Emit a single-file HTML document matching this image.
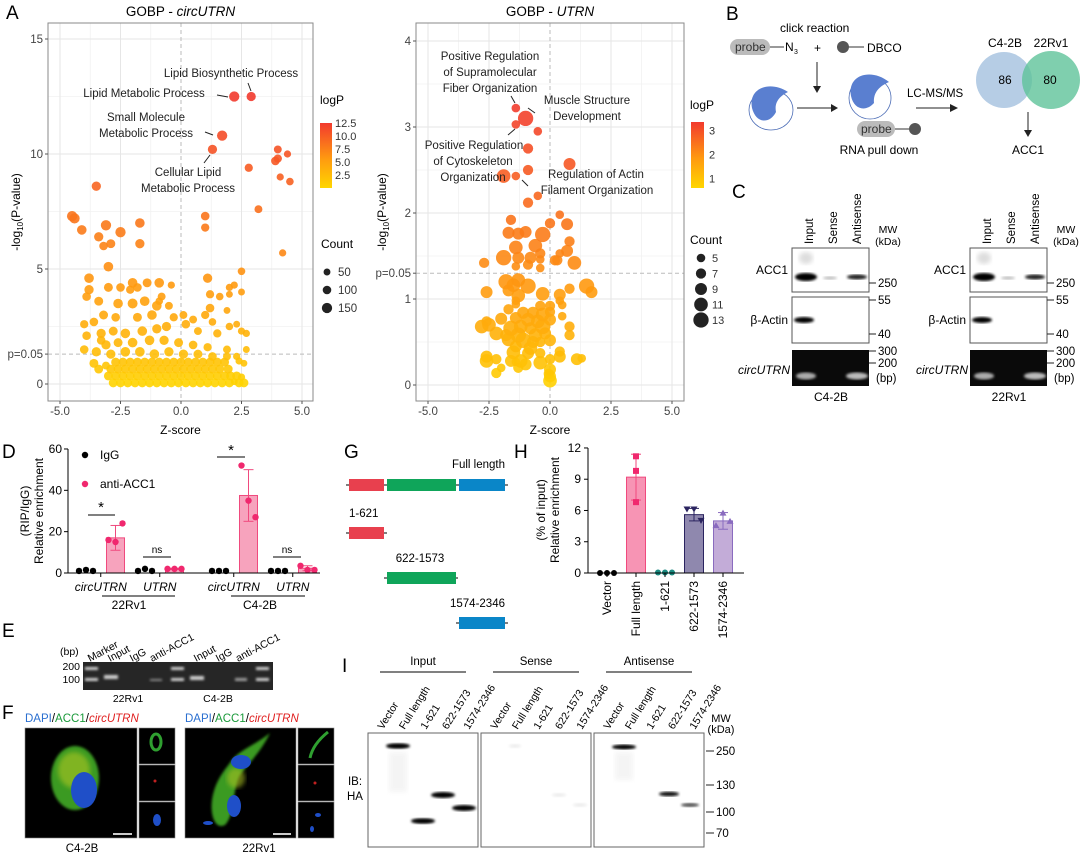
<!DOCTYPE html>
<html><head><meta charset="utf-8"><style>
html,body{margin:0;padding:0;background:#fff;}
svg{display:block;font-family:"Liberation Sans",Arial,sans-serif;}
</style></head><body>
<svg id="fig" width="1080" height="855" viewBox="0 0 1080 855" xmlns="http://www.w3.org/2000/svg">
<defs>
<linearGradient id="gradL" x1="0" y1="1" x2="0" y2="0"><stop offset="0" stop-color="#ffd600"/><stop offset="0.45" stop-color="#ff9a10"/><stop offset="1" stop-color="#f23a2e"/></linearGradient>
<filter id="blur1"><feGaussianBlur stdDeviation="1.3"/></filter>
<filter id="blur2"><feGaussianBlur stdDeviation="2.5"/></filter>
</defs>
<g id="panelA1"></g>
<g id="panelA2"></g>
<g id="panelD"></g>
<g id="panelH"></g>

<g font-size="19" fill="#000">
<text x="6" y="19">A</text><text x="726" y="20">B</text><text x="732" y="198">C</text>
<text x="2" y="458">D</text><text x="2" y="637">E</text><text x="2" y="719">F</text>
<text x="344" y="458">G</text><text x="514" y="458">H</text><text x="342" y="672">I</text>
</g>

<g font-size="12">
<text x="780" y="32">click reaction</text>
<rect x="730" y="39" width="40" height="16" rx="8" fill="#bbb"/>
<text x="735" y="51" fill="#333">probe</text>
<line x1="770" y1="47" x2="784" y2="47" stroke="#333"/>
<text x="785" y="51">N</text><text x="794" y="54" font-size="7">3</text>
<text x="814" y="52">+</text>
<circle cx="843" cy="47" r="6" fill="#555"/><line x1="849" y1="47" x2="864" y2="47" stroke="#333"/>
<text x="867" y="52">DBCO</text>
<line x1="817" y1="62" x2="817" y2="88" stroke="#222"/><path d="M813,86 L817,93 L821,86Z" fill="#222"/>
<g>
<ellipse cx="771" cy="110" rx="22" ry="20" fill="#fff" stroke="#4a6bb5" stroke-width="0.8"/>
<path d="M752,108 C748,88 770,80 788,92 C780,96 774,102 776,112 C770,124 756,124 752,108Z" fill="#5a7fd0"/>
</g>
<line x1="797" y1="108" x2="833" y2="108" stroke="#222"/><path d="M831,104 L838,108 L831,112Z" fill="#222"/>
<g>
<ellipse cx="870" cy="98" rx="21" ry="21" fill="#fff" stroke="#4a6bb5" stroke-width="0.8"/>
<path d="M851,96 C847,74 872,68 889,82 C880,86 873,92 874,103 C866,112 854,110 851,96Z" fill="#5a7fd0"/>
</g>
<rect x="857" y="121" width="38" height="16" rx="8" fill="#bbb"/>
<text x="861" y="133" fill="#333">probe</text>
<line x1="895" y1="129" x2="909" y2="129" stroke="#333"/><circle cx="915" cy="129" r="6" fill="#555"/>
<text x="879" y="154" text-anchor="middle">RNA pull down</text>
<text x="907" y="97" font-size="11.5">LC-MS/MS</text>
<line x1="916" y1="108" x2="952" y2="108" stroke="#222"/><path d="M950,104 L958,108 L950,112Z" fill="#222"/>
<circle cx="1004" cy="80" r="28" fill="#a9c4e0" opacity="0.85"/>
<circle cx="1051" cy="80" r="29" fill="#5fc39a" opacity="0.8"/>
<text x="1005" y="47" text-anchor="middle">C4-2B</text><text x="1051" y="47" text-anchor="middle">22Rv1</text>
<text x="1005" y="84" text-anchor="middle">86</text><text x="1050" y="84" text-anchor="middle">80</text>
<line x1="1028" y1="112" x2="1028" y2="132" stroke="#222"/><path d="M1024,130 L1028,137 L1032,130Z" fill="#222"/>
<text x="1028" y="154" text-anchor="middle">ACC1</text>
</g>

<g id="panelC" font-size="11"></g>

<g font-size="10.5">
<text x="60" y="655">(bp)</text>
<text x="80" y="670" text-anchor="end">200</text><text x="80" y="683" text-anchor="end">100</text>
<g font-size="10.5">
<text transform="translate(90,662) rotate(-28)">Marker</text>
<text transform="translate(110,662) rotate(-28)">Input</text>
<text transform="translate(132,662) rotate(-28)">IgG</text>
<text transform="translate(152,662) rotate(-28)">anti-ACC1</text>
<text transform="translate(196,662) rotate(-28)">Input</text>
<text transform="translate(218,662) rotate(-28)">IgG</text>
<text transform="translate(238,662) rotate(-28)">anti-ACC1</text>
</g>
<rect x="83" y="662" width="190" height="28" fill="#262626"/>
<g fill="#cfcfcf" filter="url(#blur1)">
<rect x="85" y="667" width="13" height="3"/><rect x="85" y="678" width="13" height="3"/>
<rect x="171" y="667" width="13" height="3"/><rect x="171" y="678" width="13" height="3"/>
<rect x="256" y="667" width="13" height="3"/><rect x="256" y="678" width="13" height="3"/>
<rect x="104" y="675" width="14" height="4"/><rect x="150" y="679" width="12" height="2" opacity="0.6"/>
<rect x="190" y="676" width="14" height="4"/><rect x="235" y="678" width="12" height="3" opacity="0.7"/>
</g>
<text x="128" y="702" text-anchor="middle">22Rv1</text><text x="218" y="702" text-anchor="middle">C4-2B</text>
</g>

<g font-size="11.5">
<text x="25" y="722"><tspan fill="#2a6fd0">DAPI</tspan>/<tspan fill="#1a9a3a">ACC1</tspan>/<tspan fill="#e02020" font-style="italic">circUTRN</tspan></text>
<text x="185" y="722"><tspan fill="#2a6fd0">DAPI</tspan>/<tspan fill="#1a9a3a">ACC1</tspan>/<tspan fill="#e02020" font-style="italic">circUTRN</tspan></text>
<rect x="25" y="728" width="112" height="110" fill="#000" stroke="#888" stroke-width="0.6"/>
<ellipse cx="75" cy="778" rx="24" ry="32" fill="#3a9a20" filter="url(#blur1)"/>
<ellipse cx="74" cy="770" rx="16" ry="18" fill="#9ec020" opacity="0.7" filter="url(#blur2)"/>
<ellipse cx="84" cy="790" rx="13" ry="18" fill="#1f4fc8"/>
<line x1="113" y1="834" x2="132" y2="834" stroke="#ccc" stroke-width="2"/>
<rect x="139" y="728" width="36" height="36" fill="#000" stroke="#888" stroke-width="0.6"/>
<rect x="139" y="765" width="36" height="36" fill="#000" stroke="#888" stroke-width="0.6"/>
<rect x="139" y="802" width="36" height="36" fill="#000" stroke="#888" stroke-width="0.6"/>
<ellipse cx="156" cy="742" rx="5" ry="8" fill="none" stroke="#2fa030" stroke-width="3"/>
<circle cx="155" cy="781" r="1.5" fill="#c02020"/>
<ellipse cx="157" cy="820" rx="4" ry="6" fill="#1f4fc8"/>
<text x="82" y="852" text-anchor="middle" fill="#000">C4-2B</text>
<rect x="185" y="728" width="111" height="110" fill="#000" stroke="#888" stroke-width="0.6"/>
<path d="M212,800 C215,780 225,770 232,760 C240,750 255,745 270,733 C262,750 250,762 240,775 C232,790 235,815 225,825 C215,830 210,815 212,800Z" fill="#3a9a20" filter="url(#blur1)"/>
<ellipse cx="236" cy="778" rx="9" ry="10" fill="#a8c020" opacity="0.6" filter="url(#blur2)"/>
<ellipse cx="241" cy="762" rx="10" ry="7" fill="#1f4fc8"/>
<ellipse cx="234" cy="806" rx="7" ry="11" fill="#1f4fc8"/>
<ellipse cx="208" cy="823" rx="5" ry="2" fill="#1f4fc8"/>
<line x1="273" y1="834" x2="291" y2="834" stroke="#ccc" stroke-width="2"/>
<rect x="298" y="728" width="36" height="36" fill="#000" stroke="#888" stroke-width="0.6"/>
<rect x="298" y="765" width="36" height="36" fill="#000" stroke="#888" stroke-width="0.6"/>
<rect x="298" y="802" width="36" height="36" fill="#000" stroke="#888" stroke-width="0.6"/>
<path d="M310,758 C312,748 318,740 328,732" stroke="#2fa030" stroke-width="3" fill="none"/>
<circle cx="315" cy="783" r="1.5" fill="#c02020"/>
<ellipse cx="318" cy="815" rx="3" ry="2" fill="#1f4fc8"/><ellipse cx="312" cy="829" rx="2" ry="3" fill="#1f4fc8"/>
<text x="259" y="852" text-anchor="middle" fill="#000">22Rv1</text>
</g>

<g font-size="11.5">
<text x="505" y="468" text-anchor="end">Full length</text>
<line x1="346" y1="485" x2="508" y2="485" stroke="#000"/>
<rect x="349" y="479" width="35" height="12" fill="#e8404e"/><rect x="387" y="479" width="69" height="12" fill="#0fa55a"/><rect x="459" y="479" width="46" height="12" fill="#0a86c8"/>
<text x="349" y="517">1-621</text>
<line x1="346" y1="533" x2="387" y2="533" stroke="#000"/><rect x="349" y="527" width="35" height="12" fill="#e8404e"/>
<text x="420" y="562" text-anchor="middle">622-1573</text>
<line x1="384" y1="578" x2="458" y2="578" stroke="#000"/><rect x="387" y="572" width="69" height="12" fill="#0fa55a"/>
<text x="505" y="607" text-anchor="end">1574-2346</text>
<line x1="456" y1="623" x2="508" y2="623" stroke="#000"/><rect x="459" y="617" width="46" height="12" fill="#0a86c8"/>
</g>

<g id="panelI" font-size="10.5"></g>

<script>
const cLeftZ = [2.2,2.9,1.7,1.3,4.0,4.4,3.9,4.0,2.8,4.1,4.5,3.2,4.2,-3.5,-4.5,-4.4,-4.1,-3.1,-2.5,-1.7,-3.4,-3.2,-2.9,-1.7,1.0,1.0,-3.0,2.5,1.1,-3.8,-2.0,-1.4,-0.9,-0.4,-3.8,-3.0,-2.5,-2.1,-1.8,1.2,1.6,2.0,2.2,2.5,2.0,-3.9,-3.4,-2.6,-2.0,-1.5,-1.0,-0.5,-0.8,-0.9,1.2,1.0,1.9,-3.2,-2.7,-1.8,-1.2,-0.3,0.1,0.5,1.3,2.0,2.3,-4.0,-3.6,-3.3,-2.8,-2.3,-1.6,-1.0,-0.6,0.2,0.7,1.5,2.5,2.7,-3.9,-3.1,-2.6,-2.0,-1.3,-0.7,-0.1,0.5,1.1,1.9,2.7,-4.0,-3.5,-2.9,-2.3,-1.7,-1.1,-0.5,0.1,0.7,1.3,1.9,2.4,-3.6,-3.3,2.3,2.6,2.5,-3.1,2.2];
const cLeftP = [12.5,12.5,10.8,10.2,10.2,10.0,9.7,9.8,9.4,9.0,8.8,7.6,5.7,8.6,7.3,7.2,6.7,6.9,6.6,7.0,6.4,6.0,6.1,6.1,7.3,6.8,5.1,4.9,4.6,4.6,4.4,4.4,4.4,4.3,4.1,4.2,4.2,4.1,4.2,3.9,3.8,4.2,4.3,4.0,3.9,3.8,3.6,3.5,3.5,3.6,3.4,3.4,3.8,3.6,3.3,3.0,3.2,3.0,2.9,2.9,3.0,2.9,3.0,2.8,2.7,2.5,2.6,2.6,2.7,2.2,2.3,2.2,2.3,2.4,2.5,2.6,2.3,2.2,2.3,2.2,2.1,1.7,1.8,1.8,1.9,1.9,1.8,1.7,1.6,1.5,1.5,1.5,1.4,1.3,1.4,1.4,1.3,1.4,1.3,1.3,1.2,1.2,1.0,0.9,1.9,1.2,0.9,0.3,0.8,0.1];
const cLeftCount = [150,120,150,120,80,60,100,90,90,60,70,80,60,120,150,150,130,150,150,130,120,100,110,120,100,90,130,70,120,130,130,110,130,60,120,110,100,90,100,90,70,60,60,50,50,100,110,130,140,130,130,80,80,70,100,90,50,110,100,110,130,90,80,80,70,70,50,90,100,120,110,130,130,120,120,100,80,90,60,60,100,120,110,130,130,120,110,100,90,80,50,100,120,120,130,130,130,120,120,110,100,80,60,110,100,60,50,60,80,50];
const blobRowP = [0.05,0.35,0.65,0.95];
const blobRowZ = [
 [-2.8,-2.5,-2.2,-1.9,-1.6,-1.3,-1.0,-0.7,-0.4,-0.1,0.2,0.5,0.8,1.1,1.4,1.7,2.0,2.4,2.6],
 [-3.0,-2.7,-2.4,-2.1,-1.8,-1.5,-1.2,-0.9,-0.6,-0.3,0.0,0.3,0.6,0.9,1.2,1.5,1.8,2.05,2.3],
 [-3.4,-2.9,-2.6,-2.3,-2.0,-1.7,-1.4,-1.1,-0.8,-0.5,-0.2,0.1,0.4,0.7,1.0,1.3,1.6,1.95],
 [-2.7,-2.4,-2.1,-1.8,-1.5,-1.2,-0.9,-0.6,-0.3,0.0,0.3,0.6,0.9,1.2,1.5,1.8]
];
const blobCount = 110;

const uRightZ = [-1.4,-1.0,-1.4,-0.5,-0.9,0.8,-0.9,-1.9,-1.4,-0.5,-0.9,0.4,-1.6,0.0,0.7,-1.7,-1.3,-1.0,-0.3,-1.4,-0.6,0.8,-0.4,0.4,0.3,0.7,-2.7,-1.9,-1.3,-0.8,-0.4,0.2,1.0,-1.4,-0.9,-0.4,-1.8,-1.3,-0.9,-1.5,-0.3,0.4,0.8,1.5,1.7,-2.6,-1.7,-1.3,-1.4,-1.4,0.4,0.5,-0.4,0.0,-1.7,-1.1,-0.7,-0.3,0.0,-2.0,-1.4,-0.9,-0.5,0.0,0.5,-2.8,-2.5,-2.6,-1.6,-1.2,-0.8,-0.3,0.8,-2.2,-1.8,-1.3,-0.6,-0.2,0.8,-1.7,-1.1,-0.7,-0.4,0.0,-1.4,-0.8,-1.5,-0.9,-0.4,0.4,0.4,-2.6,-2.6,-2.2,-1.6,-1.2,-1.4,-0.4,0.0,1.1,1.3,-2.0,-1.3,-1.0,0.0,-2.2,0.0,0.0,-0.05];
const uRightP = [3.22,3.1,3.03,2.95,2.75,2.57,2.5,2.43,2.43,2.2,2.12,1.98,1.92,1.88,1.87,1.77,1.76,1.78,1.75,1.6,1.62,1.67,1.53,1.53,1.45,1.56,1.42,1.48,1.48,1.48,1.46,1.45,1.42,1.38,1.4,1.36,1.2,1.22,1.15,1.16,1.06,1.05,1.12,1.15,1.08,1.08,1.1,1.04,0.98,0.94,0.98,0.93,0.92,0.92,0.88,0.84,0.84,0.82,0.85,0.77,0.78,0.76,0.74,0.76,0.8,0.68,0.7,0.74,0.66,0.68,0.66,0.68,0.68,0.6,0.58,0.58,0.58,0.6,0.58,0.53,0.52,0.5,0.5,0.52,0.45,0.43,0.38,0.37,0.37,0.39,0.33,0.33,0.28,0.3,0.28,0.28,0.27,0.26,0.3,0.3,0.31,0.2,0.2,0.24,0.18,0.14,0.1,0.05,0.13];
const uRightCount = [5,13,5,5,7,9,7,11,5,5,7,5,7,7,9,9,9,9,13,11,11,7,7,5,7,9,7,13,9,9,5,7,11,5,7,5,13,11,13,11,11,9,7,13,9,9,9,11,5,5,5,5,7,7,7,9,9,11,7,9,9,11,11,9,5,11,11,7,13,11,9,13,7,11,9,13,11,9,7,11,13,9,7,9,9,11,11,9,7,7,9,9,11,7,9,11,5,11,7,9,5,5,7,9,9,7,9,11,7];

const xTicks = ["-5.0","-2.5","0.0","2.5","5.0"];
const xTickVals = [-5,-2.5,0,2.5,5];
const leftYTicks = [0,1.3,5,10,15];
const leftYLabels = ["0","p=0.05","5","10","15"];
const rightYTicks = [0,1,1.3,2,3,4];
const rightYLabels = ["0","1","p=0.05","2","3","4"];
const leftLegendLogP = ["12.5","10.0","7.5","5.0","2.5"];
const leftLegendLogPVals = [12.5,10,7.5,5,2.5];
const leftLegendCounts = [50,100,150];
const rightLegendLogP = [3,2,1];
const rightLegendCounts = [5,7,9,11,13];

const dCats = ["IgG","anti-ACC1","IgG","anti-ACC1","IgG","anti-ACC1","IgG","anti-ACC1"];
const dMeans = [1,17,1.3,2,1,37.5,1,2.3];
const dErr = [0,6,0,0.3,0,12.5,0,1.2];
const dPoints = [[1,1.5,1],[16,15,24],[1,2,1],[2,2,2],[1,1,1],[52,35,27],[1,1,1],[3.5,1.5,1.5]];
const dYTicks = [0,20,40,60];

const hCats = ["Vector","Full length","1-621","622-1573","1574-2346"];
const hMeans = [0,9.2,0.05,5.6,5.0];
const hErr = [0,2.2,0,0.6,0.8];
const hPoints = [[0,0,0],[11.2,9.8,6.8],[0.05,0.05,0.05],[6.1,6.1,5.0],[4.6,5.8,5.0]];
const hYTicks = [0,3,6,9,12];

const NS = "http://www.w3.org/2000/svg";
function mk(parent, tag, attrs, txt){
  const e = document.createElementNS(NS, tag);
  for (const k in attrs) e.setAttribute(k, attrs[k]);
  if (txt !== undefined) e.textContent = txt;
  parent.appendChild(e);
  return e;
}
function lerp(a,b,t){return Math.round(a+(b-a)*t);}
function heat(t){
  t=Math.max(0,Math.min(1,t));
  t=Math.pow(t,0.75);
  const c0=[255,214,0],c1=[255,154,16],c2=[242,58,46];
  let a,b,u;
  if(t<0.45){a=c0;b=c1;u=t/0.45;}else{a=c1;b=c2;u=(t-0.45)/0.55;}
  return `rgb(${lerp(a[0],b[0],u)},${lerp(a[1],b[1],u)},${lerp(a[2],b[2],u)})`;
}

function volcano(g, o){
  const {x0,x1,y0,y1,xs,ys} = o;
  mk(g,'rect',{x:x0,y:y0,width:x1-x0,height:y1-y0,fill:'#fff'});
  o.minorY.forEach(v=>mk(g,'line',{x1:x0,x2:x1,y1:ys(v),y2:ys(v),stroke:'#f2f2f2','stroke-width':0.8}));
  [-3.75,-1.25,1.25,3.75].forEach(v=>mk(g,'line',{y1:y0,y2:y1,x1:xs(v),x2:xs(v),stroke:'#f2f2f2','stroke-width':0.8}));
  o.yTicks.forEach(v=>{ if(v!==1.3) mk(g,'line',{x1:x0,x2:x1,y1:ys(v),y2:ys(v),stroke:'#e6e6e6','stroke-width':1});});
  xTickVals.forEach(v=>{ if(v!==0) mk(g,'line',{y1:y0,y2:y1,x1:xs(v),x2:xs(v),stroke:'#e6e6e6','stroke-width':1});});
  mk(g,'line',{x1:x0,x2:x1,y1:ys(1.3),y2:ys(1.3),stroke:'#bbb','stroke-dasharray':'4,3'});
  mk(g,'line',{y1:y0,y2:y1,x1:xs(0),x2:xs(0),stroke:'#bbb','stroke-dasharray':'4,3'});
  const pts = o.pts.slice().sort((a,b)=>a.p-b.p);
  pts.forEach(pt=>{
    const c = mk(g,'circle',{cx:xs(pt.z),cy:ys(pt.p),r:o.rs(pt.n),fill:heat(pt.p/o.pmax),opacity:0.9});
    
    
  });
  mk(g,'rect',{x:x0,y:y0,width:x1-x0,height:y1-y0,fill:'none',stroke:'#8a8a8a','stroke-width':1});
  o.yTicks.forEach((v,i)=>{
    mk(g,'line',{x1:x0-3,x2:x0,y1:ys(v),y2:ys(v),stroke:'#555'});
    const t=mk(g,'text',{x:x0-5,y:ys(v)+4,'text-anchor':'end','font-size':11.5,fill:'#444'},o.yLabels[i]);
    
    
  });
  xTickVals.forEach((v,i)=>{
    mk(g,'line',{y1:y1,y2:y1+3,x1:xs(v),x2:xs(v),stroke:'#555'});
    const t=mk(g,'text',{x:xs(v),y:y1+14,'text-anchor':'middle','font-size':11.5,fill:'#444'},xTicks[i]);
    
    
  });
  const xt=mk(g,'text',{x:(x0+x1)/2,y:434,'text-anchor':'middle','font-size':12},'Z-score');
  
  
  const yt=mk(g,'text',{transform:`translate(${o.ytx},${(y0+y1)/2}) rotate(-90)`,'text-anchor':'middle','font-size':12});
  
  
  mk(yt,'tspan',{},'-log');
  mk(yt,'tspan',{'font-size':8,dy:3},'10');
  mk(yt,'tspan',{dy:-3},'(P-value)');
  const tt=mk(g,'text',{x:(x0+x1)/2,y:16,'text-anchor':'middle','font-size':13.5});
  
  
  mk(tt,'tspan',{},'GOBP - ');
  mk(tt,'tspan',{'font-style':'italic'},o.title);
}

(function(){
  const g=document.getElementById('panelA1');
  const xs=z=>181+z*24.2, ys=v=>384-v*23;
  const pts=[];
  blobRowZ.forEach((row,ri)=>row.forEach(z=>pts.push({z:z,p:blobRowP[ri],n:blobCount})));
  cLeftZ.forEach((z,i)=>pts.push({z:z,p:cLeftP[i],n:cLeftCount[i]}));
  volcano(g,{x0:48,x1:313,y0:23,y1:401,xs,ys,pts,pmax:12.5,rs:n=>2.6+n*0.017,
    yTicks:leftYTicks,yLabels:leftYLabels,minorY:[2.5,7.5,12.5],ytx:20,title:'circUTRN'});
  const ann=[["Lipid Biosynthetic Process",231,77],["Lipid Metabolic Process",144,97],["Small Molecule",146,121],["Metabolic Process",146,137],["Cellular Lipid",188,176],["Metabolic Process",188,192]];
  ann.forEach(a=>{const t=mk(g,'text',{x:a[1],y:a[2],'text-anchor':'middle','font-size':11.5,fill:'#222'},a[0]);
     });
  [[248,83,251,91],[217,95,228,97],[205,132,213,135],[204,163,210,155]].forEach(l=>mk(g,'line',{x1:l[0],y1:l[1],x2:l[2],y2:l[3],stroke:'#222'}));
  const lg=mk(g,'g',{});  
  mk(lg,'text',{x:320,y:104,'font-size':12},'logP');
  mk(lg,'rect',{x:320,y:123,width:12,height:65,fill:'url(#gradL)'});
  leftLegendLogPVals.forEach((v,i)=>mk(lg,'text',{x:335,y:188-v/12.5*65+4,'font-size':11,fill:'#333'},leftLegendLogP[i]));
  mk(lg,'text',{x:321,y:248,'font-size':12},'Count');
  leftLegendCounts.forEach((n,i)=>{mk(lg,'circle',{cx:327,cy:272+i*18,r:2.6+n*0.017,fill:'#222'});
    mk(lg,'text',{x:338,y:276+i*18,'font-size':11.5,fill:'#333'},String(n));});
})();

(function(){
  const g=document.getElementById('panelA2');
  const xs=z=>550+z*24.4, ys=v=>385-v*86;
  const pts=uRightZ.map((z,i)=>({z:z,p:uRightP[i],n:uRightCount[i]}));
  volcano(g,{x0:416,x1:684,y0:23,y1:401,xs,ys,pts,pmax:3.3,rs:n=>2.2+n*0.42,
    yTicks:rightYTicks,yLabels:rightYLabels,minorY:[0.5,1.5,2.5,3.5],ytx:386,title:'UTRN'});
  const ann=[["Positive Regulation",490,60],["of Supramolecular",490,76],["Fiber Organization",490,92],["Muscle Structure",587,104],["Development",587,120],["Positive Regulation",474,149],["of Cytoskeleton",473,165],["Organization",473,181],["Regulation of Actin",596,178],["Filament Organization",597,194]];
  ann.forEach(a=>{const t=mk(g,'text',{x:a[1],y:a[2],'text-anchor':'middle','font-size':11.5,fill:'#222'},a[0]);
     });
  [[511,96,515,103],[535,113,528,108],[508,135,515,129],[522,180,528,186]].forEach(l=>mk(g,'line',{x1:l[0],y1:l[1],x2:l[2],y2:l[3],stroke:'#222'}));
  const lg=mk(g,'g',{});  
  mk(lg,'text',{x:690,y:109,'font-size':12},'logP');
  mk(lg,'rect',{x:691,y:122,width:13,height:66,fill:'url(#gradL)'});
  rightLegendLogP.forEach(v=>mk(lg,'text',{x:709,y:188-(v-0.6)/2.75*66+4,'font-size':11,fill:'#333'},String(v)));
  mk(lg,'text',{x:690,y:244,'font-size':12},'Count');
  rightLegendCounts.forEach((n,i)=>{mk(lg,'circle',{cx:701,cy:258+i*15.5,r:2.2+n*0.42,fill:'#222'});
    mk(lg,'text',{x:712,y:262+i*15.5,'font-size':11,fill:'#333'},String(n));});
})();

(function(){
  const g=document.getElementById('panelD');
  const ys=v=>573-v*2.067;
  const xs=i=>86+i*29.5+(i>=4?15:0);
  dMeans.forEach((m,i)=>{
    const anti = dCats[i]==='anti-ACC1';
    if(anti){
      const b=mk(g,'rect',{x:xs(i)-9,y:ys(m),width:18,height:573-ys(m),fill:'#f7a3bd',stroke:'#f04a7e','stroke-width':1});
      
      
      if(dErr[i]>0){
        mk(g,'line',{x1:xs(i),x2:xs(i),y1:ys(m-dErr[i]),y2:ys(m+dErr[i]),stroke:'#f04a7e'});
        mk(g,'line',{x1:xs(i)-5,x2:xs(i)+5,y1:ys(m+dErr[i]),y2:ys(m+dErr[i]),stroke:'#f04a7e'});
        mk(g,'line',{x1:xs(i)-5,x2:xs(i)+5,y1:ys(m-dErr[i]),y2:ys(m-dErr[i]),stroke:'#f04a7e'});
      }
    }
    dPoints[i].forEach((v,j)=>{
      const c=mk(g,'circle',{cx:xs(i)+(j-1)*7,cy:ys(v),r:3.2,fill:anti?'#f0286e':'#000'});
      
      
    });
  });
  mk(g,'line',{x1:68,x2:68,y1:449,y2:573,stroke:'#000'});
  mk(g,'line',{x1:68,x2:320,y1:573,y2:573,stroke:'#000'});
  dYTicks.forEach(v=>{mk(g,'line',{x1:64,x2:68,y1:ys(v),y2:ys(v),stroke:'#000'});
    mk(g,'text',{x:62,y:ys(v)+4,'text-anchor':'end','font-size':12},String(v));});
  [0,1,2,3].forEach(k=>{const x=(xs(2*k)+xs(2*k+1))/2; mk(g,'line',{x1:x,x2:x,y1:573,y2:577,stroke:'#000'});});
  const lab=[["circUTRN",(xs(0)+xs(1))/2],["UTRN",(xs(2)+xs(3))/2],["circUTRN",(xs(4)+xs(5))/2],["UTRN",(xs(6)+xs(7))/2]];
  lab.forEach(l=>mk(g,'text',{x:l[1],y:591,'text-anchor':'middle','font-size':12,'font-style':'italic'},l[0]));
  mk(g,'line',{x1:102,x2:175,y1:596,y2:596,stroke:'#000'}); mk(g,'text',{x:129,y:609,'text-anchor':'middle','font-size':12},'22Rv1');
  mk(g,'line',{x1:231,x2:305,y1:596,y2:596,stroke:'#000'}); mk(g,'text',{x:260,y:609,'text-anchor':'middle','font-size':12},'C4-2B');
  mk(g,'line',{x1:88,x2:115,y1:515,y2:515,stroke:'#000'}); mk(g,'text',{x:101,y:512,'text-anchor':'middle','font-size':15},'*');
  mk(g,'line',{x1:143,x2:171,y1:557,y2:557,stroke:'#000'}); mk(g,'text',{x:157,y:553,'text-anchor':'middle','font-size':10},'ns');
  mk(g,'line',{x1:217,x2:245,y1:457,y2:457,stroke:'#000'}); mk(g,'text',{x:231,y:455,'text-anchor':'middle','font-size':15},'*');
  mk(g,'line',{x1:273,x2:301,y1:557,y2:557,stroke:'#000'}); mk(g,'text',{x:287,y:553,'text-anchor':'middle','font-size':10},'ns');
  mk(g,'circle',{cx:85,cy:455,r:3.2,fill:'#000'}); mk(g,'text',{x:100,y:459,'font-size':12},'IgG');
  mk(g,'circle',{cx:85,cy:484,r:3.2,fill:'#f0286e'}); mk(g,'text',{x:100,y:488,'font-size':12},'anti-ACC1');
  mk(g,'text',{transform:'translate(43,511) rotate(-90)','text-anchor':'middle','font-size':12},'Relative enrichment');
  mk(g,'text',{transform:'translate(29,511) rotate(-90)','text-anchor':'middle','font-size':12},'(RIP/IgG)');
})();

(function(){
  const g=document.getElementById('panelH');
  const ys=v=>573-v*10.42;
  const xs=i=>607+i*29;
  const AX=588;
  const fills=['none','#f794b4','none','#8f88ae','#c3acd8'];
  const edges=['#000','#f04a7e','#1a8a80','#2b2460','#8a6bbf'];
  hMeans.forEach((m,i)=>{
    if(fills[i]!=='none'){
      const b=mk(g,'rect',{x:xs(i)-9.5,y:ys(m),width:19,height:573-ys(m),fill:fills[i],stroke:edges[i],'stroke-width':1});
      
      
    }
    if(hErr[i]>0){
      mk(g,'line',{x1:xs(i),x2:xs(i),y1:ys(m-hErr[i]),y2:ys(m+hErr[i]),stroke:edges[i]});
      mk(g,'line',{x1:xs(i)-5,x2:xs(i)+5,y1:ys(m+hErr[i]),y2:ys(m+hErr[i]),stroke:edges[i]});
      mk(g,'line',{x1:xs(i)-5,x2:xs(i)+5,y1:ys(m-hErr[i]),y2:ys(m-hErr[i]),stroke:edges[i]});
    }
    hPoints[i].forEach((v,j)=>{
      const cx=xs(i)+(j-1)*7, cy=ys(v);
      let p;
      if(i===1) p=mk(g,'rect',{x:xs(i)-3,y:cy-3,width:6,height:6,fill:'#f0286e'});
      else if(i===3) p=mk(g,'path',{d:`M${cx-3.5},${cy-3} L${cx+3.5},${cy-3} L${cx},${cy+3}Z`,fill:'#2b2460'});
      else if(i===4) p=mk(g,'path',{d:`M${cx-3.5},${cy+3} L${cx+3.5},${cy+3} L${cx},${cy-3}Z`,fill:'#8a6bbf'});
      else p=mk(g,'circle',{cx:cx,cy:cy,r:3,fill:edges[i]});
      
      
    });
  });
  mk(g,'line',{x1:AX,x2:AX,y1:448,y2:573,stroke:'#000'});
  mk(g,'line',{x1:AX,x2:744,y1:573,y2:573,stroke:'#000'});
  hYTicks.forEach(v=>{mk(g,'line',{x1:AX-4,x2:AX,y1:ys(v),y2:ys(v),stroke:'#000'});
    mk(g,'text',{x:AX-7,y:ys(v)+4,'text-anchor':'end','font-size':12},String(v));});
  hCats.forEach((c,i)=>{mk(g,'line',{x1:xs(i),x2:xs(i),y1:573,y2:577,stroke:'#000'});
    const t=mk(g,'text',{transform:`translate(${xs(i)+4},581) rotate(-90)`,'text-anchor':'end','font-size':12},c);
     });
  mk(g,'text',{transform:'translate(559,510) rotate(-90)','text-anchor':'middle','font-size':12},'Relative enrichment');
  mk(g,'text',{transform:'translate(545,510) rotate(-90)','text-anchor':'middle','font-size':12},'(% of input)');
})();

(function(){
  const g=document.getElementById('panelC');
  function blot(ox, cell){
    const lanes=[["Input",813],["Sense",837],["Antisense",861]];
    lanes.forEach(l=>mk(g,'text',{transform:`translate(${l[1]+ox},244) rotate(-90)`,'font-size':11.5},l[0]));
    mk(g,'text',{x:888+ox,y:233,'text-anchor':'middle','font-size':10.5},'MW');
    mk(g,'text',{x:888+ox,y:245,'text-anchor':'middle','font-size':10.5},'(kDa)');
    mk(g,'rect',{x:792+ox,y:248,width:77,height:44,fill:'#fff',stroke:'#555'});
    mk(g,'rect',{x:792+ox,y:297,width:77,height:46,fill:'#fff',stroke:'#555'});
    mk(g,'rect',{x:792+ox,y:350,width:77,height:36,fill:'#0a0a0a'});
    mk(g,'ellipse',{cx:806+ox,cy:258,rx:7,ry:6,fill:'#ddd',filter:'url(#blur2)'});
    mk(g,'ellipse',{cx:806+ox,cy:277,rx:11,ry:4,fill:'#000',filter:'url(#blur1)'});
    mk(g,'ellipse',{cx:830+ox,cy:278,rx:7,ry:1.5,fill:'#bbb',filter:'url(#blur1)'});
    mk(g,'ellipse',{cx:857+ox,cy:277,rx:10,ry:2.5,fill:'#222',filter:'url(#blur1)'});
    mk(g,'ellipse',{cx:804+ox,cy:320,rx:10,ry:3,fill:'#000',filter:'url(#blur1)'});
    mk(g,'ellipse',{cx:806+ox,cy:376,rx:10,ry:3.5,fill:'#aaa',filter:'url(#blur1)'});
    mk(g,'ellipse',{cx:857+ox,cy:376,rx:11,ry:3.5,fill:'#bbb',filter:'url(#blur1)'});
    [[283,'250'],[300,'55'],[334,'40'],[351,'300'],[363,'200']].forEach(t=>{
      mk(g,'line',{x1:869+ox,x2:876+ox,y1:t[0],y2:t[0],stroke:'#222'});
      mk(g,'text',{x:878+ox,y:t[0]+4,'font-size':11.5},t[1]);});
    mk(g,'text',{x:876+ox,y:382,'font-size':11.5},'(bp)');
    mk(g,'text',{x:788+ox,y:274,'text-anchor':'end','font-size':12},'ACC1');
    mk(g,'text',{x:788+ox,y:324,'text-anchor':'end','font-size':12},'β-Actin');
    mk(g,'text',{x:790+ox,y:374,'text-anchor':'end','font-size':12,'font-style':'italic'},'circUTRN');
    mk(g,'text',{x:831+ox,y:401,'text-anchor':'middle','font-size':12},cell);
  }
  blot(0,'C4-2B'); blot(178,'22Rv1');
})();

(function(){
  const g=document.getElementById('panelI');
  const boxes=[368,481,594];
  const heads=["Input","Sense","Antisense"];
  const lanes=["Vector","Full length","1-621","622-1573","1574-2346"];
  boxes.forEach((bx,k)=>{
    mk(g,'text',{x:bx+55,y:665,'text-anchor':'middle','font-size':11.5},heads[k]);
    mk(g,'line',{x1:bx+12,x2:bx+98,y1:672,y2:672,stroke:'#000'});
    lanes.forEach((l,i)=>mk(g,'text',{transform:`translate(${bx+15+i*21.5},730) rotate(-58)`,'font-size':10.5},l));
    mk(g,'rect',{x:bx,y:733,width:110,height:114,fill:'#fff',stroke:'#666'});
  });
  const bands=[[398,746,12,2.8,'#000'],[423,821,12,2.8,'#000'],[443,795,12,3,'#000'],[464,808,12,3,'#000'],
               [624,747,12,2.5,'#000'],[669,794,10,2.3,'#111'],[690,805,9,2,'#555'],
               [515,746,6,2,'#eee'],[559,795,7,2,'#eee'],[580,805,7,2,'#eee']];
  bands.forEach(b=>mk(g,'ellipse',{cx:b[0],cy:b[1],rx:b[2],ry:b[3],fill:b[4],filter:'url(#blur1)'}));
  mk(g,'rect',{x:389,y:752,width:18,height:40,fill:'#eee',opacity:0.6,filter:'url(#blur2)'});
  mk(g,'rect',{x:615,y:752,width:18,height:28,fill:'#eee',opacity:0.6,filter:'url(#blur2)'});
  mk(g,'text',{x:721,y:722,'text-anchor':'middle','font-size':11},'MW');
  mk(g,'text',{x:721,y:733,'text-anchor':'middle','font-size':11},'(kDa)');
  [[751,'250'],[785,'130'],[812,'100'],[833,'70']].forEach(t=>{
    mk(g,'line',{x1:706,x2:714,y1:t[0],y2:t[0],stroke:'#222'});
    mk(g,'text',{x:716,y:t[0]+4,'font-size':11.5},t[1]);});
  mk(g,'text',{x:355,y:785,'text-anchor':'middle','font-size':11.5},'IB:');
  mk(g,'text',{x:355,y:800,'text-anchor':'middle','font-size':11.5},'HA');
})();
</script>
</svg>
</body></html>
